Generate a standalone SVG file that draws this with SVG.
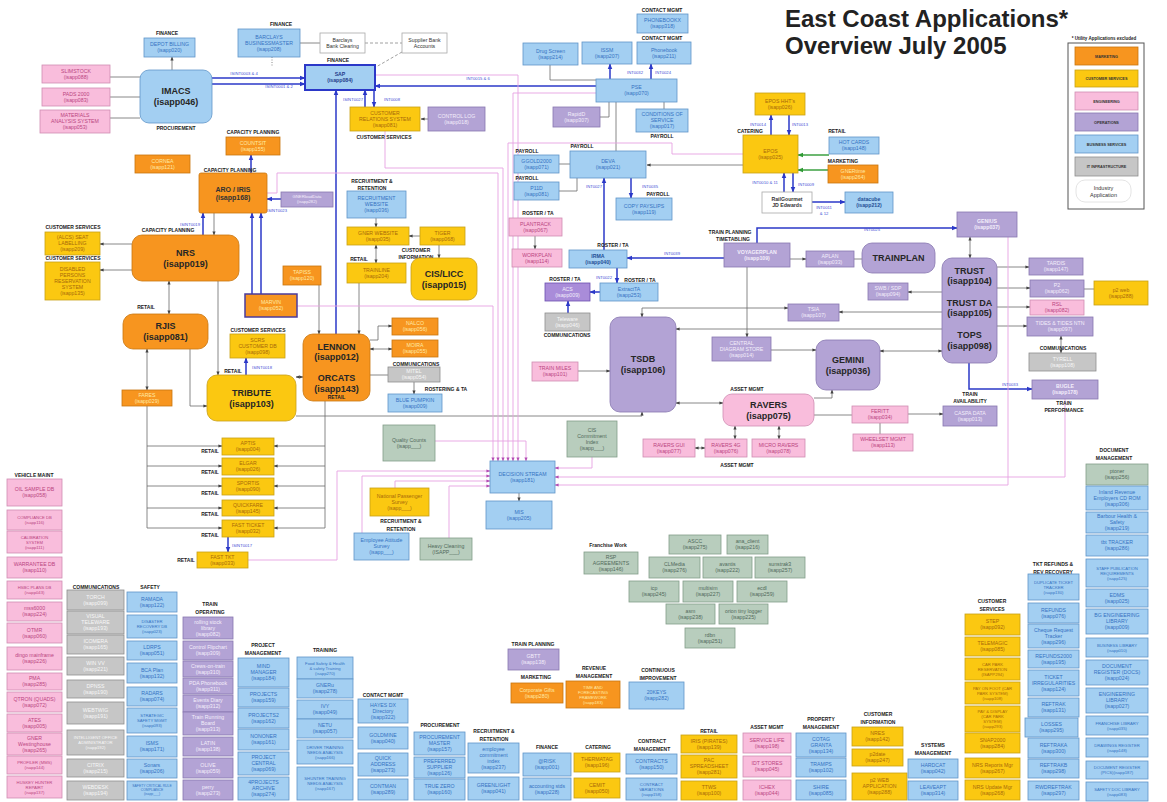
<svg xmlns="http://www.w3.org/2000/svg" width="1167" height="802" viewBox="0 0 1167 802">
<style>
text{font-family:"Liberation Sans",Arial,sans-serif}
.o{fill:#F7951F;stroke:#C9760F;stroke-width:.8}
.y{fill:#FBC811;stroke:#C9A016;stroke-width:.8}
.p{fill:#F9BDDC;stroke:#CF8DB2;stroke-width:.8}
.u{fill:#B3A3D5;stroke:#8877B0;stroke-width:.8}
.b{fill:#A3CFF2;stroke:#5F95C9;stroke-width:.8}
.g{fill:#C6C6C6;stroke:#8E8E8E;stroke-width:.8}
.n{fill:#B8CDBD;stroke:#839D89;stroke-width:.8}
.w{fill:#fff;stroke:#A9A9A9;stroke-width:.8}
.t{font-size:5.2px;text-anchor:middle}
.s{font-size:4.2px}
.xs{font-size:3.4px}
.to{fill:#FFEAA6}.ty{fill:#A8690A}.tp{fill:#B9457F}.tu{fill:#F3EEFB}.tb{fill:#3572C2}.tg{fill:#F7F7F7}.tn{fill:#50695A}.tw{fill:#333}
.bt{font-size:9px;font-weight:bold;fill:#262626;text-anchor:middle}
.lb{font-size:5px;font-weight:bold;fill:#222;text-anchor:middle}
.il{font-size:4.2px;fill:#3F4FD6;text-anchor:middle}
.lg{font-size:3.8px;font-weight:bold;fill:#333;text-anchor:middle}
.c{fill:none;stroke:#6a6a6a;stroke-width:.8}
.cd{fill:none;stroke:#888;stroke-width:.8;stroke-dasharray:3 2}
.cb{fill:none;stroke:#2B38C8;stroke-width:1.5}
.cp{fill:none;stroke:#E7A2E2;stroke-width:.9}
.cg{fill:none;stroke:#2E9A34;stroke-width:1.4}
</style>
<defs>
<marker id="a" viewBox="0 0 10 10" refX="9" refY="5" markerWidth="4" markerHeight="4" markerUnits="userSpaceOnUse" orient="auto-start-reverse"><path d="M0,1L10,5L0,9z" fill="#444"/></marker>
<marker id="ab" viewBox="0 0 10 10" refX="9" refY="5" markerWidth="6" markerHeight="6" markerUnits="userSpaceOnUse" orient="auto-start-reverse"><path d="M0,1L10,5L0,9z" fill="#2B38C8"/></marker>
<marker id="ag" viewBox="0 0 10 10" refX="9" refY="5" markerWidth="6" markerHeight="6" markerUnits="userSpaceOnUse" orient="auto-start-reverse"><path d="M0,1L10,5L0,9z" fill="#2E9A34"/></marker>
<marker id="ap" viewBox="0 0 10 10" refX="9" refY="5" markerWidth="4" markerHeight="4" markerUnits="userSpaceOnUse" orient="auto-start-reverse"><path d="M0,1L10,5L0,9z" fill="#B44FB4"/></marker>
</defs>
<rect width="1167" height="802" fill="#fff"/>

<!-- title and legend -->
<g id="title">
<text x="785" y="27" font-size="24" font-weight="bold" fill="#222">East Coast Applications*</text>
<text x="785" y="54" font-size="24" font-weight="bold" fill="#222">Overview July 2005</text>
</g>
<g id="legend">
<text x="1104" y="40" font-size="4.5" font-weight="bold" fill="#222" text-anchor="middle">* Utility Applications excluded</text>
<rect x="1068" y="43" width="76" height="166" fill="#fff" stroke="#555" stroke-width="1"/>
<rect class="o" x="1075" y="47" width="63" height="18"/><text class="lg" x="1106.5" y="57.5">MARKETING</text>
<rect class="y" x="1075" y="70" width="63" height="17"/><text class="lg" x="1106.5" y="80">CUSTOMER SERVICES</text>
<rect class="p" x="1075" y="92" width="63" height="18"/><text class="lg" x="1106.5" y="102.5">ENGINEERING</text>
<rect class="u" x="1075" y="113" width="63" height="18"/><text class="lg" x="1106.5" y="123.5">OPERATIONS</text>
<rect class="b" x="1075" y="135" width="63" height="18"/><text class="lg" x="1106.5" y="145.5">BUSINESS SERVICES</text>
<rect class="g" x="1075" y="157" width="63" height="19"/><text class="lg" x="1106.5" y="168">IT INFRASTRUCTURE</text>
<rect x="1076" y="180" width="55" height="22" rx="9" fill="#fff" stroke="#ddd" stroke-width=".8"/>
<text x="1103.5" y="190" font-size="5.5" fill="#333" text-anchor="middle">Industry</text>
<text x="1103.5" y="197" font-size="5.5" fill="#333" text-anchor="middle">Application</text>
</g>

<!-- connectors -->
<g id="connectors">
<g id="grey-links">
<path class="c" d="M172,70V57" marker-end="url(#a)"/>
<path class="c" d="M110,77H140M110,97H140M110,118H140M300,43H320"/>
<path class="cd" d="M365,43H402M402,52L376,67"/>
<path class="c" d="M272,57V66" stroke-dasharray="1 1.5"/>
<path class="c" d="M428,119H421" marker-end="url(#a)"/>
<path class="c" d="M550,65V80H596M664,102V109M616,102V151M600,117H609V102M559,164H570M559,191H577V178"/>
<path class="c" d="M743,165H647" marker-end="url(#a)"/>
<path class="c" d="M790,259H806" marker-end="url(#a)"/>
<path class="c" d="M854,259H862"/>
<path class="c" d="M214,213V235" marker-end="url(#a)"/>
<path class="c" d="M132,244H100" marker-end="url(#a)"/>
<path class="c" d="M132,270H100" marker-end="url(#a)"/>
<path class="c" d="M169,281V314" marker-start="url(#a)" marker-end="url(#a)"/>
<path class="c" d="M218,281V375" marker-end="url(#a)"/>
<path class="c" d="M147,349V390" marker-start="url(#a)" marker-end="url(#a)"/>
<path class="c" d="M190,349V406H207" marker-end="url(#a)"/>
<path class="c" d="M296,377H303" marker-start="url(#a)" marker-end="url(#a)"/>
<path class="c" d="M147,406V528M325,401V528"/>
<path class="c" d="M147,446H222" marker-end="url(#a)"/>
<path class="c" d="M147,466H222" marker-end="url(#a)"/>
<path class="c" d="M147,486H222" marker-end="url(#a)"/>
<path class="c" d="M147,508H222" marker-end="url(#a)"/>
<path class="c" d="M147,528H222" marker-end="url(#a)"/>
<path class="c" d="M325,446H274" marker-end="url(#a)"/>
<path class="c" d="M325,466H274" marker-end="url(#a)"/>
<path class="c" d="M325,486H274" marker-end="url(#a)"/>
<path class="c" d="M325,508H274" marker-end="url(#a)"/>
<path class="c" d="M325,528H274" marker-end="url(#a)"/>
<path class="c" d="M319,285V334" marker-end="url(#a)"/>
<path class="c" d="M359,283V334" marker-end="url(#a)"/>
<path class="c" d="M370,340H378V326H392" marker-end="url(#a)"/>
<path class="c" d="M370,349H392" marker-start="url(#a)" marker-end="url(#a)"/>
<path class="c" d="M370,375H388"/>
<path class="c" d="M414,382V394" marker-end="url(#a)"/>
<path class="c" d="M376,218V227" marker-end="url(#a)"/>
<path class="c" d="M420,236H409" marker-end="url(#a)"/>
<path class="c" d="M376,245V263" marker-start="url(#a)" marker-end="url(#a)"/>
<path class="c" d="M439,245V258" marker-end="url(#a)"/>
<path class="c" d="M535,236V249" marker-end="url(#a)"/>
<path class="c" d="M747,267V337" marker-end="url(#a)"/>
<path class="c" d="M788,308H642V317" marker-start="url(#a)" marker-end="url(#a)"/>
<path class="c" d="M942,312H839" marker-end="url(#a)"/>
<path class="c" d="M942,329H676" marker-end="url(#a)"/>
<path class="c" d="M771,350H816" marker-end="url(#a)"/>
<path class="c" d="M880,351H942" marker-start="url(#a)" marker-end="url(#a)"/>
<path class="c" d="M942,292H908" marker-end="url(#a)"/>
<path class="c" d="M997,267H1029" marker-end="url(#a)"/>
<path class="c" d="M997,288H1030" marker-end="url(#a)"/>
<path class="c" d="M997,307H1030" marker-end="url(#a)"/>
<path class="c" d="M997,326H1027" marker-end="url(#a)"/>
<path class="c" d="M1061,336V353" marker-start="url(#a)" marker-end="url(#a)"/>
<path class="c" d="M970,237V258" marker-start="url(#a)" marker-end="url(#a)"/>
<path class="c" d="M1084,289H1094"/>
<path class="c" d="M578,371H610" marker-end="url(#a)"/>
<path class="c" d="M676,403H723" marker-start="url(#a)" marker-end="url(#a)"/>
<path class="c" d="M814,398H832V390" marker-end="url(#a)"/>
<path class="c" d="M814,415H852"/>
<path class="c" d="M908,414H943" marker-end="url(#a)"/>
<path class="c" d="M880,423V434"/>
<path class="c" d="M735,426V439" marker-start="url(#a)" marker-end="url(#a)"/>
<path class="c" d="M779,426V439" marker-start="url(#a)" marker-end="url(#a)"/>
<path class="c" d="M705,448H695" marker-start="url(#a)" marker-end="url(#a)"/>
<path class="c" d="M296,416H642V412" marker-end="url(#a)"/>
<path class="c" d="M519,493V501" marker-end="url(#a)"/>
</g>
<g id="interface-links">
<path class="cb" d="M212,78H305" marker-end="url(#ab)"/>
<path class="cb" d="M212,84H305" marker-end="url(#ab)"/>
<path class="cb" d="M596,86H375" marker-end="url(#ab)"/>
<path class="cb" d="M365,107V90" marker-end="url(#ab)"/>
<path class="cb" d="M374,90V107" marker-end="url(#ab)"/>
<path class="cb" d="M336,334V90" marker-end="url(#ab)"/>
<path class="cb" d="M610,79V64" marker-end="url(#ab)"/>
<path class="cb" d="M651,79V64" marker-end="url(#ab)"/>
<path class="cb" d="M631,178V198" marker-end="url(#ab)"/>
<path class="cb" d="M604,250V178" marker-end="url(#ab)"/>
<path class="cb" d="M771,135V115" marker-end="url(#ab)"/>
<path class="cb" d="M789,115V135" marker-end="url(#ab)"/>
<path class="cb" d="M784,192V173" marker-end="url(#ab)"/>
<path class="cb" d="M793,173V192" marker-end="url(#ab)"/>
<path class="cb" d="M812,202H845" marker-end="url(#ab)"/>
<path class="cb" d="M251,173V155" marker-end="url(#ab)"/>
<path class="cb" d="M203,235V213" marker-end="url(#ab)"/>
<path class="cb" d="M281,199H267" marker-end="url(#ab)"/>
<path class="cb" d="M252,294V213" marker-end="url(#ab)"/>
<path class="cb" d="M261,294V213" marker-end="url(#ab)"/>
<path class="cb" d="M246,375V358" marker-end="url(#ab)"/>
<path class="cb" d="M228,537V552" marker-end="url(#ab)"/>
<path class="cb" d="M724,258H627" marker-end="url(#ab)"/>
<path class="cb" d="M757,243V228H957" marker-end="url(#ab)"/>
<path class="cb" d="M617,268V283" marker-end="url(#ab)"/>
<path class="cb" d="M600,292H590" marker-end="url(#ab)"/>
<path class="cb" d="M568,313V301" marker-end="url(#ab)"/>
<path class="cb" d="M969,363V389H1032" marker-end="url(#ab)"/>
<path class="cg" d="M829,155H798" marker-end="url(#ag)"/>
<path class="cg" d="M828,170H798" marker-end="url(#ag)"/>
</g>
<g id="decision-stream-feeds">
<path class="cp" d="M375,75H518V461" marker-end="url(#ap)"/>
<path class="cp" d="M596,93H513V461" marker-end="url(#ap)"/>
<path class="cp" d="M743,154H672V143H508V461" marker-end="url(#ap)"/>
<path class="cp" d="M385,131V168H503V461" marker-end="url(#ap)"/>
<path class="cp" d="M267,193H277V173H498V461" marker-end="url(#ap)"/>
<path class="cp" d="M297,306H493V461" marker-end="url(#ap)"/>
<path class="cp" d="M435,441H526V461" marker-end="url(#ap)"/>
<path class="cp" d="M592,457V468H555" marker-end="url(#ap)"/>
<path class="cp" d="M1008,237V485H555" marker-end="url(#ap)"/>
<path class="cp" d="M1065,399V477H555" marker-end="url(#ap)"/>
<path class="cp" d="M248,560H337V471H490" marker-end="url(#ap)"/>
<path class="cp" d="M362,533V476H490" marker-end="url(#ap)"/>
<path class="cp" d="M395,488V481H490" marker-end="url(#ap)"/>
<path class="cp" d="M449,538V486H490" marker-end="url(#ap)"/>
</g>
<g id="interface-labels">
<text class="il" x="244" y="75">ISINT0003 &amp; 4</text>
<text class="il" x="279" y="88">ISINT0001 &amp; 2</text>
<text class="il" x="478" y="80">INT0015 &amp; 6</text>
<text class="il" x="353" y="101">ISINT0027</text>
<text class="il" x="392" y="101">INT0008</text>
<text class="il" x="635" y="74">INT0032</text>
<text class="il" x="663" y="74">INT0024</text>
<text class="il" x="594" y="188">INT0027</text>
<text class="il" x="650" y="188">INT0035</text>
<text class="il" x="758" y="126">INT0014</text>
<text class="il" x="800" y="126">INT0013</text>
<text class="il" x="765" y="184">INT0010 &amp; 11</text>
<text class="il" x="806" y="186">INT0009</text>
<text class="il" x="824" y="209">INT0011</text>
<text class="il" x="824" y="215">&amp; 12</text>
<text class="il" x="672" y="255">INT0039</text>
<text class="il" x="872" y="231">INT0025</text>
<text class="il" x="604" y="279">INT0022</text>
<text class="il" x="1010" y="386">INT0033</text>
<text class="il" x="277" y="212">ISINT0023</text>
<text class="il" x="190" y="226">ISINT0019</text>
<text class="il" x="262" y="369">ISINT0018</text>
<text class="il" x="242" y="547">ISINT0017</text>
</g>
</g>

<!-- section labels -->
<g id="labels">
<text class="lb" x="167" y="35">FINANCE</text>
<text class="lb" x="176" y="130">PROCUREMENT</text>
<text class="lb" x="281" y="26">FINANCE</text>
<text class="lb" x="338" y="62">FINANCE</text>
<text class="lb" x="384" y="139">CUSTOMER SERVICES</text>
<text class="lb" x="662" y="12">CONTACT MGMT</text>
<text class="lb" x="662" y="40">CONTACT MGMT</text>
<text class="lb" x="662" y="138">PAYROLL</text>
<text class="lb" x="527" y="153">PAYROLL</text>
<text class="lb" x="527" y="180">PAYROLL</text>
<text class="lb" x="582" y="148">PAYROLL</text>
<text class="lb" x="658" y="196">PAYROLL</text>
<text class="lb" x="538" y="215">ROSTER / TA</text>
<text class="lb" x="613" y="247">ROSTER / TA</text>
<text class="lb" x="565" y="281">ROSTER / TA</text>
<text class="lb" x="640" y="282">ROSTER / TA</text>
<text class="lb" x="567" y="337">COMMUNICATIONS</text>
<text class="lb" x="750" y="133">CATERING</text>
<text class="lb" x="837" y="133">RETAIL</text>
<text class="lb" x="843" y="163">MARKETING</text>
<text class="lb" x="730" y="234">TRAIN PLANNING</text>
<text class="lb" x="733" y="241">TIMETABLING</text>
<text class="lb" x="253" y="134">CAPACITY PLANNING</text>
<text class="lb" x="230" y="172">CAPACITY PLANNING</text>
<text class="lb" x="168" y="232">CAPACITY PLANNING</text>
<text class="lb" x="73" y="229">CUSTOMER SERVICES</text>
<text class="lb" x="73" y="260">CUSTOMER SERVICES</text>
<text class="lb" x="372" y="183">RECRUITMENT &amp;</text>
<text class="lb" x="372" y="190">RETENTION</text>
<text class="lb" x="416" y="252">CUSTOMER</text>
<text class="lb" x="416" y="259">INFORMATION</text>
<text class="lb" x="359" y="261">RETAIL</text>
<text class="lb" x="146" y="309">RETAIL</text>
<text class="lb" x="258" y="332">CUSTOMER SERVICES</text>
<text class="lb" x="233" y="373">RETAIL</text>
<text class="lb" x="416" y="366">COMMUNICATIONS</text>
<text class="lb" x="446" y="391">ROSTERING &amp; TA</text>
<text class="lb" x="210" y="453">RETAIL</text>
<text class="lb" x="210" y="474">RETAIL</text>
<text class="lb" x="210" y="495">RETAIL</text>
<text class="lb" x="210" y="516">RETAIL</text>
<text class="lb" x="210" y="537">RETAIL</text>
<text class="lb" x="186" y="562">RETAIL</text>
<text class="lb" x="401" y="523">RECRUITMENT &amp;</text>
<text class="lb" x="401" y="531">RETENTION</text>
<text class="lb" x="747" y="391">ASSET MGMT</text>
<text class="lb" x="737" y="467">ASSET MGMT</text>
<text class="lb" x="970" y="396">TRAIN</text>
<text class="lb" x="970" y="403">AVAILABILITY</text>
<text class="lb" x="1063" y="350">COMMUNICATIONS</text>
<text class="lb" x="1064" y="405">TRAIN</text>
<text class="lb" x="1064" y="412">PERFORMANCE</text>
<text class="lb" x="1114" y="452">DOCUMENT</text>
<text class="lb" x="1114" y="460">MANAGEMENT</text>
<text class="lb" x="34" y="477">VEHICLE MAINT</text>
<text class="lb" x="96" y="589">COMMUNICATIONS</text>
<text class="lb" x="150" y="589">SAFETY</text>
<text class="lb" x="210" y="606">TRAIN</text>
<text class="lb" x="210" y="614">OPERATING</text>
<text class="lb" x="263" y="647">PROJECT</text>
<text class="lb" x="263" y="655">MANAGEMENT</text>
<text class="lb" x="325" y="652">TRAINING</text>
<text class="lb" x="383" y="697">CONTACT MGMT</text>
<text class="lb" x="440" y="727">PROCUREMENT</text>
<text class="lb" x="494" y="733">RECRUITMENT &amp;</text>
<text class="lb" x="494" y="741">RETENTION</text>
<text class="lb" x="547" y="749">FINANCE</text>
<text class="lb" x="533" y="646">TRAIN PLANNING</text>
<text class="lb" x="536" y="679">MARKETING</text>
<text class="lb" x="594" y="670">REVENUE</text>
<text class="lb" x="594" y="678">MANAGEMENT</text>
<text class="lb" x="658" y="672">CONTINUOUS</text>
<text class="lb" x="658" y="680">IMPROVEMENT</text>
<text class="lb" x="598" y="749">CATERING</text>
<text class="lb" x="652" y="743">CONTRACT</text>
<text class="lb" x="652" y="751">MANAGEMENT</text>
<text class="lb" x="709" y="733">RETAIL</text>
<text class="lb" x="767" y="729">ASSET MGMT</text>
<text class="lb" x="821" y="721">PROPERTY</text>
<text class="lb" x="821" y="729">MANAGEMENT</text>
<text class="lb" x="878" y="716">CUSTOMER</text>
<text class="lb" x="878" y="724">INFORMATION</text>
<text class="lb" x="933" y="747">SYSTEMS</text>
<text class="lb" x="933" y="755">MANAGEMENT</text>
<text class="lb" x="992" y="603">CUSTOMER</text>
<text class="lb" x="992" y="611">SERVICES</text>
<text class="lb" x="1053" y="566">TKT REFUNDS &amp;</text>
<text class="lb" x="1053" y="574">REV RECOVERY</text>
<text class="lb" x="608" y="547">Franchise Work</text>
</g>

<!-- main map nodes -->
<g id="depot"><rect class="b" x="144" y="38" width="51" height="19"/><text class="t tb" x="169.5" y="46.3">DEPOT BILLING<tspan x="169.5" dy="6">(isapp020)</tspan></text></g>
<g id="slimstock"><rect class="p" x="42" y="65" width="68" height="18"/><text class="t tp" x="76" y="72.8">SLIMSTOCK<tspan x="76" dy="6">(isapp088)</tspan></text></g>
<g id="pads"><rect class="p" x="42" y="88" width="68" height="18"/><text class="t tp" x="76" y="95.8">PADS 2000<tspan x="76" dy="6">(isapp083)</tspan></text></g>
<g id="materials"><rect class="p" x="40" y="110" width="70" height="23"/><text class="t tp" x="75" y="117.3">MATERIALS<tspan x="75" dy="6">ANALYSIS SYSTEM</tspan><tspan x="75" dy="6">(isapp053)</tspan></text></g>
<g id="imacs"><rect class="b" x="140" y="70" width="72" height="53" rx="9"/><text class="bt" x="176" y="94.2">IMACS<tspan x="176" dy="11">(isapp046)</tspan></text></g>
<g id="barclays"><rect class="b" x="238" y="29" width="62" height="28"/><text class="t tb" x="269" y="38.8">BARCLAYS<tspan x="269" dy="6">BUSINESSMASTER</tspan><tspan x="269" dy="6">(isapp208)</tspan></text></g>
<g id="bank-clearing"><rect class="w" x="320" y="33" width="45" height="20"/><text class="t tw" x="342.5" y="41.8">Barclays<tspan x="342.5" dy="6">Bank Clearing</tspan></text></g>
<g id="supplier-bank"><rect class="w" x="402" y="33" width="45" height="20"/><text class="t tw" x="424.5" y="41.8">Supplier Bank<tspan x="424.5" dy="6">Accounts</tspan></text></g>
<g id="sap"><rect class="b" x="305" y="65" width="70" height="25" stroke="#2B38C8" stroke-width="2" style="stroke:#2B38C8;stroke-width:2"/><text class="t" x="340" y="76.3" fill="#1F3C8A" font-weight="bold">SAP<tspan x="340" dy="6">(isapp084)</tspan></text></g>
<g id="crs"><rect class="y" x="350" y="107" width="70" height="24"/><text class="t ty" x="385" y="114.8">CUSTOMER<tspan x="385" dy="6">RELATIONS SYSTEM</tspan><tspan x="385" dy="6">(isapp081)</tspan></text></g>
<g id="control-log"><rect class="u" x="428" y="107" width="57" height="24"/><text class="t tu" x="456.5" y="117.8">CONTROL LOG<tspan x="456.5" dy="6">(isapp018)</tspan></text></g>
<g id="drug-screen"><rect class="b" x="523" y="43" width="55" height="22"/><text class="t tb" x="550.5" y="52.8">Drug Screen<tspan x="550.5" dy="6">(isapp214)</tspan></text></g>
<g id="issm"><rect class="b" x="582" y="42" width="50" height="22"/><text class="t tb" x="607" y="51.8">ISSM<tspan x="607" dy="6">(isapp207)</tspan></text></g>
<g id="phonebookx"><rect class="b" x="637" y="14" width="51" height="19"/><text class="t tb" x="662.5" y="22.3">PHONEBOOKX<tspan x="662.5" dy="6">(isapp318)</tspan></text></g>
<g id="phonebook"><rect class="b" x="637" y="42" width="54" height="22"/><text class="t tb" x="664" y="51.8">Phonebook<tspan x="664" dy="6">(isapp211)</tspan></text></g>
<g id="pse"><rect class="b" x="596" y="79" width="81" height="23"/><text class="t tb" x="636.5" y="89.3">PSE<tspan x="636.5" dy="6">(isapp070)</tspan></text></g>
<g id="rapidd"><rect class="u" x="553" y="107" width="47" height="20"/><text class="t tu" x="576.5" y="115.8">RapidD<tspan x="576.5" dy="6">(isapp307)</tspan></text></g>
<g id="conditions"><rect class="b" x="636" y="109" width="52" height="23"/><text class="t tb" x="662" y="116.3">CONDITIONS OF<tspan x="662" dy="6">SERVICE</tspan><tspan x="662" dy="6">(isapp017)</tspan></text></g>
<g id="ggold"><rect class="b" x="514" y="155" width="45" height="18"/><text class="t tb" x="536.5" y="162.8">GGOLD2000<tspan x="536.5" dy="6">(isapp071)</tspan></text></g>
<g id="p11d"><rect class="b" x="514" y="182" width="45" height="18"/><text class="t tb" x="536.5" y="189.8">P11D<tspan x="536.5" dy="6">(isapp081)</tspan></text></g>
<g id="deva"><rect class="b" x="570" y="151" width="76" height="27"/><text class="t tb" x="608" y="163.3">DEVA<tspan x="608" dy="6">(isapp021)</tspan></text></g>
<g id="copy-payslips"><rect class="b" x="616" y="198" width="56" height="22"/><text class="t tb" x="644" y="207.8">COPY PAYSLIPS<tspan x="644" dy="6">(isapp119)</tspan></text></g>
<g id="epos-hht"><rect class="y" x="755" y="93" width="50" height="22"/><text class="t ty" x="780" y="102.8">EPOS HHT's<tspan x="780" dy="6">(isapp026)</tspan></text></g>
<g id="epos"><rect class="y" x="743" y="135" width="55" height="38"/><text class="t ty" x="770.5" y="152.8">EPOS<tspan x="770.5" dy="6">(isapp025)</tspan></text></g>
<g id="hot-cards"><rect class="b" x="829" y="137" width="50" height="17"/><text class="t tb" x="854" y="144.3">HOT CARDS<tspan x="854" dy="6">(isapp148)</tspan></text></g>
<g id="gnertime"><rect class="o" x="828" y="165" width="50" height="18"/><text class="t to" x="853" y="172.8">GNERtime<tspan x="853" dy="6">(isapp264)</tspan></text></g>
<g id="railgourmet"><rect class="w" x="762" y="192" width="50" height="21"/><text class="t tw" x="787" y="201.3" font-weight="bold">RailGourmet<tspan x="787" dy="6">JD Edwards</tspan></text></g>
<g id="datacube"><rect class="b" x="845" y="192" width="48" height="21"/><text class="t" x="869" y="201.3" fill="#1F4E96" font-weight="bold">datacube<tspan x="869" dy="6">(isapp212)</tspan></text></g>
<g id="countsit"><rect class="o" x="226" y="137" width="54" height="18"/><text class="t to" x="253" y="144.8">COUNTSIT<tspan x="253" dy="6">(isapp155)</tspan></text></g>
<g id="cornea"><rect class="o" x="135" y="155" width="55" height="18"/><text class="t to" x="162.5" y="162.8">CORNEA<tspan x="162.5" dy="6">(isapp121)</tspan></text></g>
<g id="aro-iris"><rect class="o" x="199" y="173" width="68" height="40" rx="2"/><text x="233" y="191.5" font-size="7" font-weight="bold" fill="#333" text-anchor="middle">ARO / IRIS<tspan x="233" dy="8">(isapp168)</tspan></text></g>
<g id="gnerload"><rect class="u" x="281" y="192" width="52" height="15"/><text class="t tu s" x="307" y="198">GNERloadData<tspan x="307" dy="5">(isapp282)</tspan></text></g>
<g id="recruit-web"><rect class="b" x="347" y="191" width="59" height="27"/><text class="t tb" x="376.5" y="200.3">RECRUITMENT<tspan x="376.5" dy="6">WEBSITE</tspan><tspan x="376.5" dy="6">(isapp036)</tspan></text></g>
<g id="gner-website"><rect class="y" x="347" y="227" width="62" height="18"/><text class="t ty" x="378" y="234.8">GNER WEBSITE<tspan x="378" dy="6">(isapp035)</tspan></text></g>
<g id="tiger"><rect class="y" x="420" y="227" width="45" height="18"/><text class="t ty" x="442.5" y="234.8">TIGER<tspan x="442.5" dy="6">(isapp068)</tspan></text></g>
<g id="trainline"><rect class="y" x="347" y="263" width="59" height="20"/><text class="t ty" x="376.5" y="271.8">TRAINLINE<tspan x="376.5" dy="6">(isapp204)</tspan></text></g>
<g id="cis-licc"><rect class="y" x="411" y="258" width="66" height="42" rx="9"/><text class="bt" x="444" y="276.7">CIS/LICC<tspan x="444" dy="11">(isapp015)</tspan></text></g>
<g id="plantrack"><rect class="p" x="509" y="218" width="53" height="18"/><text class="t tp" x="535.5" y="225.8">PLANTRACK<tspan x="535.5" dy="6">(isapp067)</tspan></text></g>
<g id="workplan"><rect class="p" x="512" y="249" width="50" height="18"/><text class="t tp" x="537" y="256.8">WORKPLAN<tspan x="537" dy="6">(isapp114)</tspan></text></g>
<g id="irma"><rect class="b" x="569" y="250" width="58" height="18"/><text class="t" x="598" y="257.8" fill="#1F4E96" font-weight="bold">IRMA<tspan x="598" dy="6">(isapp040)</tspan></text></g>
<g id="voyagerplan"><rect class="u" x="724" y="243" width="66" height="24"/><text class="t tu" x="757" y="253.8" font-weight="bold">VOYAGERPLAN<tspan x="757" dy="6">(isapp109)</tspan></text></g>
<g id="aplan"><rect class="u" x="806" y="251" width="48" height="16"/><text class="t tu" x="830" y="257.8">APLAN<tspan x="830" dy="6">(isapp033)</tspan></text></g>
<g id="trainplan"><rect class="u" x="862" y="243" width="73" height="30" rx="10"/><text class="bt" x="898.5" y="261.2">TRAINPLAN</text></g>
<g id="genius"><rect class="u" x="957" y="212" width="60" height="25"/><text class="t tu" x="987" y="223.3" font-weight="bold">GENIUS<tspan x="987" dy="6">(isapp037)</tspan></text></g>
<g id="alcs"><rect class="y" x="45" y="232" width="55" height="23"/><text class="t ty" x="72.5" y="239.3">(ALCS)  SEAT<tspan x="72.5" dy="6">LABELLING</tspan><tspan x="72.5" dy="6">(isapp209)</tspan></text></g>
<g id="disabled"><rect class="y" x="45" y="262" width="55" height="38"/><text class="t ty" x="72.5" y="270.8">DISABLED<tspan x="72.5" dy="6">PERSONS</tspan><tspan x="72.5" dy="6">RESERVATION</tspan><tspan x="72.5" dy="6">SYSTEM</tspan><tspan x="72.5" dy="6">(isapp135)</tspan></text></g>
<g id="nrs"><rect class="o" x="132" y="235" width="107" height="46" rx="10"/><text class="bt" x="185.5" y="255.7">NRS<tspan x="185.5" dy="11">(isapp019)</tspan></text></g>
<g id="tapiss"><rect class="o" x="283" y="266" width="38" height="19"/><text class="t to" x="302" y="274.3">TAPISS<tspan x="302" dy="6">(isapp120)</tspan></text></g>
<g id="marvin"><rect class="o" x="245" y="294" width="52" height="23" style="stroke:#4B3C9C;stroke-width:1.5"/><text class="t to" x="271" y="304.3">MARVIN<tspan x="271" dy="6">(isapp052)</tspan></text></g>
<g id="rjis"><rect class="o" x="123" y="314" width="85" height="35" rx="10"/><text class="bt" x="165.5" y="329.2">RJIS<tspan x="165.5" dy="11">(isapp081)</tspan></text></g>
<g id="scrs"><rect class="y" x="230" y="334" width="55" height="24"/><text class="t ty" x="257.5" y="341.8">SCRS<tspan x="257.5" dy="6">CUSTOMER DB</tspan><tspan x="257.5" dy="6">(isapp098)</tspan></text></g>
<g id="tribute"><rect class="y" x="207" y="375" width="89" height="46" rx="10"/><text class="bt" x="251.5" y="395.7">TRIBUTE<tspan x="251.5" dy="11">(isapp103)</tspan></text></g>
<g id="fares"><rect class="o" x="122" y="390" width="50" height="16"/><text class="t to" x="147" y="396.8">FARES<tspan x="147" dy="6">(isapp029)</tspan></text></g>
<g id="lennon-orcats"><rect class="o" x="303" y="334" width="67" height="67" rx="10"/><text class="bt" x="336.5" y="349.5">LENNON<tspan x="336.5" dy="10.5">(isapp012)</tspan><tspan x="336.5" dy="21">ORCATS</tspan><tspan x="336.5" dy="10.5">(isapp143)</tspan></text><text class="lb" x="336.5" y="398.5">RETAIL</text></g>
<g id="nalco"><rect class="o" x="392" y="318" width="46" height="17"/><text class="t to" x="415" y="325.3">NALCO<tspan x="415" dy="6">(isapp056)</tspan></text></g>
<g id="moira"><rect class="o" x="392" y="340" width="46" height="17"/><text class="t to" x="415" y="347.3">MOIRA<tspan x="415" dy="6">(isapp055)</tspan></text></g>
<g id="mitel"><rect class="g" x="388" y="367" width="52" height="15"/><text class="t tg" x="414" y="373.3">MITEL<tspan x="414" dy="6">(isapp054)</tspan></text></g>
<g id="blue-pumpkin"><rect class="b" x="388" y="394" width="54" height="18"/><text class="t tb" x="415" y="401.8">BLUE PUMPKIN<tspan x="415" dy="6">(isapp009)</tspan></text></g>
<g id="aptis"><rect class="y" x="222" y="438" width="52" height="17"/><text class="t ty" x="248" y="445.3">APTIS<tspan x="248" dy="6">(isapp004)</tspan></text></g>
<g id="elgar"><rect class="y" x="222" y="458" width="52" height="17"/><text class="t ty" x="248" y="465.3">ELGAR<tspan x="248" dy="6">(isapp026)</tspan></text></g>
<g id="sportis"><rect class="y" x="222" y="478" width="52" height="17"/><text class="t ty" x="248" y="485.3">SPORTIS<tspan x="248" dy="6">(isapp090)</tspan></text></g>
<g id="quickfare"><rect class="y" x="222" y="500" width="52" height="16"/><text class="t ty" x="248" y="506.8">QUICKFARE<tspan x="248" dy="6">(isapp145)</tspan></text></g>
<g id="fast-ticket"><rect class="y" x="222" y="520" width="52" height="17"/><text class="t ty" x="248" y="527.3">FAST TICKET<tspan x="248" dy="6">(isapp032)</tspan></text></g>
<g id="fast-tkt"><rect class="y" x="197" y="552" width="51" height="16"/><text class="t ty" x="222.5" y="558.8">FAST TKT<tspan x="222.5" dy="6">(isapp033)</tspan></text></g>
<g id="quality-counts"><rect class="n" x="383" y="425" width="52" height="36"/><text class="t tn" x="409" y="441.8">Quality Counts<tspan x="409" dy="6">(isapp___)</tspan></text></g>
<g id="cis-commitment"><rect class="n" x="567" y="421" width="50" height="36"/><text class="t tn" x="592" y="431.8">CIS<tspan x="592" dy="6">Commitment</tspan><tspan x="592" dy="6">Index</tspan><tspan x="592" dy="6">(isapp___)</tspan></text></g>
<g id="decision-stream"><rect class="b" x="490" y="461" width="65" height="32"/><text class="t tb" x="522.5" y="475.8">DECISION STREAM<tspan x="522.5" dy="6">(isapp181)</tspan></text></g>
<g id="mis"><rect class="b" x="486" y="501" width="66" height="28"/><text class="t tb" x="519" y="513.8">MIS<tspan x="519" dy="6">(isapp205)</tspan></text></g>
<g id="nps"><rect class="y" x="370" y="488" width="59" height="28"/><text class="t ty" x="399.5" y="497.8">National Passenger<tspan x="399.5" dy="6">Survey</tspan><tspan x="399.5" dy="6">(isapp___)</tspan></text></g>
<g id="eas"><rect class="b" x="354" y="533" width="55" height="27"/><text class="t tb" x="381.5" y="542.3">Employee Attitude<tspan x="381.5" dy="6">Survey</tspan><tspan x="381.5" dy="6">(isapp___)</tspan></text></g>
<g id="heavy-cleaning"><rect class="n" x="420" y="538" width="52" height="22"/><text class="t tn" x="446" y="547.8">Heavy Cleaning<tspan x="446" dy="6">(ISAPP___)</tspan></text></g>
<g id="train-miles"><rect class="p" x="532" y="362" width="46" height="19"/><text class="t tp" x="555" y="370.3">TRAIN MILES<tspan x="555" dy="6">(isapp101)</tspan></text></g>
<g id="acs"><rect x="545" y="283" width="45" height="18" fill="#A98CD9" stroke="#6B4FB0" stroke-width=".8"/><text class="t tu" x="567.5" y="290.8">ACS<tspan x="567.5" dy="6">(isapp009)</tspan></text></g>
<g id="teleware"><rect class="g" x="545" y="313" width="45" height="18"/><text class="t tg" x="567.5" y="320.8">Teleware<tspan x="567.5" dy="6">(isapp046)</tspan></text></g>
<g id="extractta"><rect class="b" x="600" y="283" width="58" height="18"/><text class="t tb" x="629" y="290.8">ExtractTA<tspan x="629" dy="6">(isapp253)</tspan></text></g>
<g id="tsdb"><rect class="u" x="610" y="317" width="66" height="95" rx="10"/><text class="bt" x="643" y="362.2">TSDB<tspan x="643" dy="11">(isapp106)</tspan></text></g>
<g id="tsia"><rect class="u" x="788" y="304" width="51" height="17"/><text class="t tu" x="813.5" y="311.3">TSIA<tspan x="813.5" dy="6">(isapp107)</tspan></text></g>
<g id="central-diagram"><rect class="u" x="712" y="337" width="59" height="24"/><text class="t tu" x="741.5" y="344.8">CENTRAL<tspan x="741.5" dy="6">DIAGRAM STORE</tspan><tspan x="741.5" dy="6">(isapp014)</tspan></text></g>
<g id="gemini"><rect class="u" x="816" y="340" width="64" height="50" rx="10"/><text class="bt" x="848" y="362.7">GEMINI<tspan x="848" dy="11">(isapp036)</tspan></text></g>
<g id="ravers"><rect class="p" x="723" y="394" width="91" height="32" rx="9"/><text class="bt" x="768.5" y="407.7">RAVERS<tspan x="768.5" dy="11">(isapp075)</tspan></text></g>
<g id="ravers-gui"><rect class="p" x="643" y="439" width="52" height="18"/><text class="t tp" x="669" y="446.8">RAVERS GUI<tspan x="669" dy="6">(isapp077)</tspan></text></g>
<g id="ravers-4g"><rect class="p" x="705" y="439" width="42" height="18"/><text class="t tp" x="726" y="446.8">RAVERS 4G<tspan x="726" dy="6">(isapp076)</tspan></text></g>
<g id="micro-ravers"><rect class="p" x="752" y="439" width="53" height="18"/><text class="t tp" x="778.5" y="446.8">MICRO RAVERS<tspan x="778.5" dy="6">(isapp078)</tspan></text></g>
<g id="feritt"><rect class="p" x="852" y="406" width="56" height="17"/><text class="t tp" x="880" y="413.3">FERITT<tspan x="880" dy="6">(isapp034)</tspan></text></g>
<g id="wheelset"><rect class="p" x="853" y="434" width="60" height="17"/><text class="t tp" x="883" y="441.3">WHEELSET MGMT<tspan x="883" dy="6">(isapp113)</tspan></text></g>
<g id="caspa"><rect class="u" x="943" y="406" width="54" height="20"/><text class="t tu" x="970" y="414.8">CASPA DATA<tspan x="970" dy="6">(isapp013)</tspan></text></g>
<g id="trust"><rect class="u" x="942" y="258" width="55" height="105" rx="10"/><text class="bt" x="969.5" y="273.5">TRUST<tspan x="969.5" dy="10.5">(isapp104)</tspan><tspan x="969.5" dy="21.5">TRUST DA</tspan><tspan x="969.5" dy="10.5">(isapp105)</tspan><tspan x="969.5" dy="21.5">TOPS</tspan><tspan x="969.5" dy="11">(isapp098)</tspan></text></g>
<g id="swb-sdp"><rect class="u" x="868" y="283" width="40" height="17"/><text class="t tu" x="888" y="290.3">SWB / SDP<tspan x="888" dy="6">(isapp094)</tspan></text></g>
<g id="tardis"><rect class="u" x="1029" y="258" width="54" height="17"/><text class="t tu" x="1056" y="265.3">TARDIS<tspan x="1056" dy="6">(isapp147)</tspan></text></g>
<g id="p2"><rect class="u" x="1030" y="280" width="54" height="17"/><text class="t tu" x="1057" y="287.3">P2<tspan x="1057" dy="6">(isapp062)</tspan></text></g>
<g id="p2-web"><rect class="y" x="1094" y="281" width="54" height="24"/><text class="t ty" x="1121" y="291.8">p2 web<tspan x="1121" dy="6">(isapp288)</tspan></text></g>
<g id="rsl"><rect class="p" x="1030" y="300" width="54" height="15"/><text class="t tp" x="1057" y="306.3">RSL<tspan x="1057" dy="6">(isapp082)</tspan></text></g>
<g id="tides"><rect class="u" x="1027" y="317" width="66" height="19"/><text class="t tu" x="1060" y="325.3">TIDES &amp; TIDES NTN<tspan x="1060" dy="6">(isapp097)</tspan></text></g>
<g id="tyrell"><rect class="g" x="1029" y="353" width="67" height="18"/><text class="t tg" x="1062.5" y="360.8">TYRELL<tspan x="1062.5" dy="6">(isapp108)</tspan></text></g>
<g id="bugle"><rect class="u" x="1032" y="380" width="66" height="19"/><text class="t tu" x="1065" y="388.3" font-weight="bold">BUGLE<tspan x="1065" dy="6">(isapp178)</tspan></text></g>

<!-- standalone application lists -->
<g id="vehicle-maint">
<g id="oil-sample"><rect class="p" x="7" y="479" width="55" height="27"/><text class="t tp" x="34.5" y="491.3">OIL SAMPLE DB<tspan x="34.5" dy="6">(isapp058)</tspan></text></g>
<g id="compliance-db"><rect class="p" x="7" y="510" width="55" height="20"/><text class="t tp s" x="34.5" y="519">COMPLIANCE DB<tspan x="34.5" dy="5">(isapp116)</tspan></text></g>
<g id="calibration"><rect class="p" x="7" y="531" width="55" height="22"/><text class="t tp s" x="34.5" y="538.5">CALIBRATION<tspan x="34.5" dy="5">SYSTEM</tspan><tspan x="34.5" dy="5">(isapp111)</tspan></text></g>
<g id="warrantee"><rect class="p" x="7" y="557" width="55" height="21"/><text class="t tp" x="34.5" y="566.3">WARRANTEE DB<tspan x="34.5" dy="6">(isapp110)</tspan></text></g>
<g id="hsbc-plans"><rect class="p" x="7" y="581" width="55" height="18"/><text class="t tp s" x="34.5" y="589">HSBC PLANS DB<tspan x="34.5" dy="5">(isapp043)</tspan></text></g>
<g id="mss6000"><rect class="p" x="7" y="602" width="55" height="19"/><text class="t tp" x="34.5" y="610.3">mss6000<tspan x="34.5" dy="6">(isapp224)</tspan></text></g>
<g id="otmr"><rect class="p" x="7" y="623" width="55" height="20"/><text class="t tp" x="34.5" y="631.8">OTMR<tspan x="34.5" dy="6">(isapp060)</tspan></text></g>
<g id="dingo"><rect class="p" x="7" y="647" width="55" height="23"/><text class="t tp" x="34.5" y="657.3">dingo mainframe<tspan x="34.5" dy="6">(isapp226)</tspan></text></g>
<g id="pma"><rect class="p" x="7" y="673" width="55" height="17"/><text class="t tp" x="34.5" y="680.3">PMA<tspan x="34.5" dy="6">(isapp285)</tspan></text></g>
<g id="qtron"><rect class="p" x="7" y="692" width="55" height="20"/><text class="t tp" x="34.5" y="700.8">QTRON (QUADS)<tspan x="34.5" dy="6">(isapp072)</tspan></text></g>
<g id="ates"><rect class="p" x="7" y="714" width="55" height="18"/><text class="t tp" x="34.5" y="721.8">ATES<tspan x="34.5" dy="6">(isapp005)</tspan></text></g>
<g id="westinghouse"><rect class="p" x="7" y="733" width="55" height="22"/><text class="t tp" x="34.5" y="739.8">GNER<tspan x="34.5" dy="6">Westinghouse</tspan><tspan x="34.5" dy="6">(isapp265)</tspan></text></g>
<g id="profiler"><rect class="p" x="7" y="756" width="55" height="18"/><text class="t tp s" x="34.5" y="764">PROFILER (MMS)<tspan x="34.5" dy="5">(isapp144)</tspan></text></g>
<g id="huskey"><rect class="p" x="7" y="776" width="55" height="22"/><text class="t tp s" x="34.5" y="783.5">HUSKEY HUNTER<tspan x="34.5" dy="5">REPAIRT</tspan><tspan x="34.5" dy="5">(isapp137)</tspan></text></g>
</g>
<g id="communications">
<g id="torch"><rect class="g" x="67" y="590" width="57" height="20"/><text class="t tg" x="95.5" y="598.8">TORCH<tspan x="95.5" dy="6">(isapp099)</tspan></text></g>
<g id="visual-teleware"><rect class="g" x="67" y="611" width="57" height="23"/><text class="t tg" x="95.5" y="618.3">VISUAL<tspan x="95.5" dy="6">TELEWARE</tspan><tspan x="95.5" dy="6">(isapp193)</tspan></text></g>
<g id="icomera"><rect class="g" x="67" y="635" width="57" height="19"/><text class="t tg" x="95.5" y="643.3">ICOMERA<tspan x="95.5" dy="6">(isapp165)</tspan></text></g>
<g id="win-vv"><rect class="g" x="67" y="657" width="57" height="18"/><text class="t tg" x="95.5" y="664.8">WIN VV<tspan x="95.5" dy="6">(isapp221)</tspan></text></g>
<g id="dpnss"><rect class="g" x="67" y="680" width="57" height="18"/><text class="t tg" x="95.5" y="687.8">DPNSS<tspan x="95.5" dy="6">(isapp190)</tspan></text></g>
<g id="webtwig"><rect class="g" x="67" y="702" width="57" height="22"/><text class="t tg" x="95.5" y="711.8">WEBTWIG<tspan x="95.5" dy="6">(isapp191)</tspan></text></g>
<g id="intelligent-office"><rect class="g" x="67" y="730" width="57" height="25"/><text class="t tg s" x="95.5" y="739">INTELLIGENT OFFICE<tspan x="95.5" dy="5">ADMINISTRATOR</tspan><tspan x="95.5" dy="5">(isapp192)</tspan></text></g>
<g id="citrix"><rect class="g" x="67" y="759" width="57" height="18"/><text class="t tg" x="95.5" y="766.8">CITRIX<tspan x="95.5" dy="6">(isapp215)</tspan></text></g>
<g id="webdesk"><rect class="g" x="67" y="781" width="57" height="19"/><text class="t tg" x="95.5" y="789.3">WEBDESK<tspan x="95.5" dy="6">(isapp194)</tspan></text></g>
</g>
<g id="safety">
<g id="ramada"><rect class="b" x="127" y="592" width="50" height="20"/><text class="t tb" x="152" y="600.8">RAMADA<tspan x="152" dy="6">(isapp122)</tspan></text></g>
<g id="disaster"><rect class="b" x="127" y="615" width="50" height="23"/><text class="t tb s" x="152" y="623">DISASTER<tspan x="152" dy="5">RECOVERY DB</tspan><tspan x="152" dy="5">(isapp023)</tspan></text></g>
<g id="ldrps"><rect class="b" x="127" y="641" width="50" height="19"/><text class="t tb" x="152" y="649.3">LDRPS<tspan x="152" dy="6">(isapp051)</tspan></text></g>
<g id="bca"><rect class="b" x="127" y="663" width="50" height="20"/><text class="t tb" x="152" y="671.8">BCA Plan<tspan x="152" dy="6">(isapp132)</tspan></text></g>
<g id="radars"><rect class="b" x="127" y="687" width="50" height="19"/><text class="t tb" x="152" y="695.3">RADARS<tspan x="152" dy="6">(isapp074)</tspan></text></g>
<g id="strategic"><rect class="b" x="127" y="708" width="50" height="25"/><text class="t tb s" x="152" y="717">STRATEGIC<tspan x="152" dy="5">SAFETY MGMT</tspan><tspan x="152" dy="5">(isapp093)</tspan></text></g>
<g id="isms"><rect class="b" x="127" y="736" width="50" height="21"/><text class="t tb" x="152" y="745.3">ISMS<tspan x="152" dy="6">(isapp171)</tspan></text></g>
<g id="sonars"><rect class="b" x="127" y="759" width="50" height="19"/><text class="t tb" x="152" y="767.3">Sonars<tspan x="152" dy="6">(isapp206)</tspan></text></g>
<g id="safety-critical"><rect class="b" x="127" y="781" width="50" height="19"/><text class="t tb xs" x="152" y="786.5">SAFETY CRITICAL RULE<tspan x="152" dy="4.2">COMPLIANCE</tspan><tspan x="152" dy="4.2">(isapp___)</tspan></text></g>
</g>
<g id="train-operating">
<g id="rolling-stock"><rect class="u" x="183" y="617" width="50" height="22"/><text class="t tu" x="208" y="623.8">rolling stock<tspan x="208" dy="6">library</tspan><tspan x="208" dy="6">(isapp082)</tspan></text></g>
<g id="control-flipchart"><rect class="u" x="183" y="641" width="50" height="19"/><text class="t tu" x="208" y="649.3">Control Flipchart<tspan x="208" dy="6">(isapp309)</tspan></text></g>
<g id="crews-on-train"><rect class="u" x="183" y="661" width="50" height="16"/><text class="t tu" x="208" y="667.8">Crews-on-train<tspan x="208" dy="6">(isapp310)</tspan></text></g>
<g id="pda-phonebook"><rect class="u" x="183" y="678" width="50" height="16"/><text class="t tu" x="208" y="684.8">PDA Phonebook<tspan x="208" dy="6">(isapp311)</tspan></text></g>
<g id="events-diary"><rect class="u" x="183" y="695" width="50" height="17"/><text class="t tu" x="208" y="702.3">Events Diary<tspan x="208" dy="6">(isapp312)</tspan></text></g>
<g id="train-running"><rect class="u" x="183" y="712" width="50" height="23"/><text class="t tu" x="208" y="719.3">Train Running<tspan x="208" dy="6">Board</tspan><tspan x="208" dy="6">(isapp313)</tspan></text></g>
<g id="latin"><rect class="u" x="183" y="737" width="50" height="19"/><text class="t tu" x="208" y="745.3">LATIN<tspan x="208" dy="6">(isapp138)</tspan></text></g>
<g id="olive"><rect class="u" x="183" y="758" width="50" height="20"/><text class="t tu" x="208" y="766.8">OLIVE<tspan x="208" dy="6">(isapp059)</tspan></text></g>
<g id="perry"><rect class="u" x="183" y="780" width="50" height="20"/><text class="t tu" x="208" y="788.8">perry<tspan x="208" dy="6">(isapp273)</tspan></text></g>
</g>
<g id="project-management">
<g id="mind-manager"><rect class="b" x="238" y="658" width="51" height="29"/><text class="t tb" x="263.5" y="668.3">MIND<tspan x="263.5" dy="6">MANAGER</tspan><tspan x="263.5" dy="6">(isapp184)</tspan></text></g>
<g id="projects"><rect class="b" x="238" y="688" width="51" height="19"/><text class="t tb" x="263.5" y="696.3">PROJECTS<tspan x="263.5" dy="6">(isapp159)</tspan></text></g>
<g id="projects2"><rect class="b" x="238" y="708" width="51" height="20"/><text class="t tb" x="263.5" y="716.8">PROJECTS2<tspan x="263.5" dy="6">(isapp162)</tspan></text></g>
<g id="nononer"><rect class="b" x="238" y="729" width="51" height="21"/><text class="t tb" x="263.5" y="738.3">NONONER<tspan x="263.5" dy="6">(isapp161)</tspan></text></g>
<g id="project-central"><rect class="b" x="238" y="752" width="51" height="23"/><text class="t tb" x="263.5" y="759.3">PROJECT<tspan x="263.5" dy="6">CENTRAL</tspan><tspan x="263.5" dy="6">(isapp069)</tspan></text></g>
<g id="4projects"><rect class="b" x="238" y="777" width="51" height="23"/><text class="t tb" x="263.5" y="784.3">4PROJECTS<tspan x="263.5" dy="6">ARCHIVE</tspan><tspan x="263.5" dy="6">(isapp274)</tspan></text></g>
</g>
<g id="training">
<g id="food-safety"><rect class="b" x="297" y="657" width="56" height="22"/><text class="t tb s" x="325" y="664.5">Food Safety &amp; Health<tspan x="325" dy="5">&amp; safety Training</tspan><tspan x="325" dy="5">(isapp270)</tspan></text></g>
<g id="gneru"><rect class="b" x="297" y="679" width="56" height="19"/><text class="t tb" x="325" y="687.3">GNERu<tspan x="325" dy="6">(isapp278)</tspan></text></g>
<g id="ivy"><rect class="b" x="297" y="700" width="56" height="19"/><text class="t tb" x="325" y="708.3">IVY<tspan x="325" dy="6">(isapp049)</tspan></text></g>
<g id="netu"><rect class="b" x="297" y="719" width="56" height="19"/><text class="t tb" x="325" y="727.3">NETU<tspan x="325" dy="6">(isapp057)</tspan></text></g>
<g id="driver-training"><rect class="b" x="297" y="740" width="56" height="24"/><text class="t tb s" x="325" y="748.5">DRIVER TRAINING<tspan x="325" dy="5">NEEDS ANALYSIS</tspan><tspan x="325" dy="5">(isapp166)</tspan></text></g>
<g id="shunter-training"><rect class="b" x="297" y="767" width="56" height="33"/><text class="t tb s" x="325" y="780">SHUNTER TRAINING<tspan x="325" dy="5">NEEDS ANALYSIS</tspan><tspan x="325" dy="5">(isapp167)</tspan></text></g>
</g>
<g id="contact-mgmt">
<g id="hayes"><rect class="b" x="358" y="699" width="50" height="24"/><text class="t tb" x="383" y="706.8">HAYES DX<tspan x="383" dy="6">Directory</tspan><tspan x="383" dy="6">(isapp322)</tspan></text></g>
<g id="goldmine"><rect class="b" x="358" y="727" width="50" height="22"/><text class="t tb" x="383" y="736.8">GOLDMINE<tspan x="383" dy="6">(isapp040)</tspan></text></g>
<g id="quick-address"><rect class="b" x="358" y="753" width="50" height="23"/><text class="t tb" x="383" y="760.3">QUICK<tspan x="383" dy="6">ADDRESS</tspan><tspan x="383" dy="6">(isapp273)</tspan></text></g>
<g id="contman"><rect class="b" x="358" y="779" width="50" height="21"/><text class="t tb" x="383" y="788.3">CONTMAN<tspan x="383" dy="6">(isapp289)</tspan></text></g>
</g>
<g id="procurement">
<g id="proc-master"><rect class="b" x="414" y="732" width="51" height="23"/><text class="t tb" x="439.5" y="739.3">PROCUREMENT<tspan x="439.5" dy="6">MASTER</tspan><tspan x="439.5" dy="6">(isapp157)</tspan></text></g>
<g id="preferred-supplier"><rect class="b" x="414" y="757" width="51" height="21"/><text class="t tb" x="439.5" y="763.3">PREFERRED<tspan x="439.5" dy="6">SUPPLIER</tspan><tspan x="439.5" dy="6">(isapp126)</tspan></text></g>
<g id="true-zero"><rect class="b" x="414" y="779" width="51" height="21"/><text class="t tb" x="439.5" y="788.3">TRUE ZERO<tspan x="439.5" dy="6">(isapp160)</tspan></text></g>
</g>
<g id="recruitment">
<g id="employee-commitment"><rect class="b" x="468" y="743" width="51" height="30"/><text class="t tb" x="493.5" y="750.8">employee<tspan x="493.5" dy="6">commitment</tspan><tspan x="493.5" dy="6">index</tspan><tspan x="493.5" dy="6">(isapp237)</tspan></text></g>
<g id="greenlight"><rect class="b" x="468" y="777" width="51" height="23"/><text class="t tb" x="493.5" y="787.3">GREENLIGHT<tspan x="493.5" dy="6">(isapp041)</tspan></text></g>
</g>
<g id="finance">
<g id="at-risk"><rect class="b" x="523" y="753" width="48" height="23"/><text class="t tb" x="547" y="763.3">@RISK<tspan x="547" dy="6">(isapp001)</tspan></text></g>
<g id="accounting-stds"><rect class="b" x="523" y="778" width="48" height="22"/><text class="t tb" x="547" y="787.8">accounting stds<tspan x="547" dy="6">(isapp228)</tspan></text></g>
</g>
<g id="catering">
<g id="thermatag"><rect class="y" x="574" y="753" width="46" height="19"/><text class="t ty" x="597" y="761.3">THERMATAG<tspan x="597" dy="6">(isapp196)</tspan></text></g>
<g id="cemit"><rect class="y" x="574" y="778" width="46" height="20"/><text class="t ty" x="597" y="786.8">CEMIT<tspan x="597" dy="6">(isapp050)</tspan></text></g>
</g>
<g id="contract-mgmt">
<g id="contracts"><rect class="b" x="626" y="754" width="51" height="20"/><text class="t tb" x="651.5" y="762.8">CONTRACTS<tspan x="651.5" dy="6">(isapp150)</tspan></text></g>
<g id="contract-variations"><rect class="b" x="626" y="778" width="51" height="22"/><text class="t tb s" x="651.5" y="785.5">CONTRACT<tspan x="651.5" dy="5">VARIATIONS</tspan><tspan x="651.5" dy="5">(isapp158)</tspan></text></g>
</g>
<g id="retail">
<g id="iris-pirates"><rect class="y" x="681" y="735" width="56" height="18"/><text class="t ty" x="709" y="742.8">IRIS (PIRATES)<tspan x="709" dy="6">(isapp139)</tspan></text></g>
<g id="pac-spreadsheet"><rect class="y" x="681" y="755" width="56" height="23"/><text class="t ty" x="709" y="762.3">PAC<tspan x="709" dy="6">SPREADSHEET</tspan><tspan x="709" dy="6">(isapp281)</tspan></text></g>
<g id="ttws"><rect class="y" x="681" y="781" width="56" height="19"/><text class="t ty" x="709" y="789.3">TTWS<tspan x="709" dy="6">(isapp100)</tspan></text></g>
</g>
<g id="asset-mgmt">
<g id="service-life"><rect class="p" x="743" y="733" width="48" height="20"/><text class="t tp" x="767" y="741.8">SERVICE LIFE<tspan x="767" dy="6">(isapp198)</tspan></text></g>
<g id="idt-stores"><rect class="p" x="743" y="756" width="48" height="21"/><text class="t tp" x="767" y="765.3">IDT STORES<tspan x="767" dy="6">(isapp045)</tspan></text></g>
<g id="ichex"><rect class="p" x="743" y="780" width="48" height="20"/><text class="t tp" x="767" y="788.8">ICHEX<tspan x="767" dy="6">(isapp044)</tspan></text></g>
</g>
<g id="property-mgmt">
<g id="cotag"><rect class="b" x="796" y="733" width="50" height="24"/><text class="t tb" x="821" y="740.8">COTAG<tspan x="821" dy="6">GRANTA</tspan><tspan x="821" dy="6">(isapp134)</tspan></text></g>
<g id="tramps"><rect class="b" x="796" y="758" width="50" height="19"/><text class="t tb" x="821" y="766.3">TRAMPS<tspan x="821" dy="6">(isapp102)</tspan></text></g>
<g id="shire"><rect class="b" x="796" y="780" width="50" height="20"/><text class="t tb" x="821" y="788.8">SHIRE<tspan x="821" dy="6">(isapp085)</tspan></text></g>
</g>
<g id="customer-info">
<g id="nres"><rect class="y" x="852" y="727" width="51" height="19"/><text class="t ty" x="877.5" y="735.3">NRES<tspan x="877.5" dy="6">(isapp142)</tspan></text></g>
<g id="p2date"><rect class="y" x="852" y="749" width="51" height="17"/><text class="t ty" x="877.5" y="756.3">p2date<tspan x="877.5" dy="6">(isapp247)</tspan></text></g>
<g id="p2-web-app"><rect class="y" x="852" y="773" width="55" height="27"/><text class="t ty" x="879.5" y="782.3">p2 WEB<tspan x="879.5" dy="6">APPLICATION</tspan><tspan x="879.5" dy="6">(isapp288)</tspan></text></g>
</g>
<g id="systems-mgmt">
<g id="hardcat"><rect class="b" x="908" y="759" width="50" height="19"/><text class="t tb" x="933" y="767.3">HARDCAT<tspan x="933" dy="6">(isapp042)</tspan></text></g>
<g id="leaveapt"><rect class="b" x="908" y="781" width="50" height="19"/><text class="t tb" x="933" y="789.3">LEAVEAPT<tspan x="933" dy="6">(isapp314)</tspan></text></g>
</g>
<g id="customer-services">
<g id="step"><rect class="y" x="965" y="614" width="55" height="21"/><text class="t ty" x="992.5" y="623.3">STEP<tspan x="992.5" dy="6">(isapp092)</tspan></text></g>
<g id="telemagic"><rect class="y" x="965" y="637" width="55" height="19"/><text class="t ty" x="992.5" y="645.3">TELEMAGIC<tspan x="992.5" dy="6">(isapp085)</tspan></text></g>
<g id="car-park-res"><rect class="y" x="965" y="658" width="55" height="22"/><text class="t ty s" x="992.5" y="665.5">CAR PARK<tspan x="992.5" dy="5">RESERVATION</tspan><tspan x="992.5" dy="5">(ISAPP294)</tspan></text></g>
<g id="pay-on-foot"><rect class="y" x="965" y="682" width="55" height="22"/><text class="t ty s" x="992.5" y="689.5">PAY ON FOOT (CAR<tspan x="992.5" dy="5">PARK SYSTEM)</tspan><tspan x="992.5" dy="5">(isapp108)</tspan></text></g>
<g id="pay-display"><rect class="y" x="965" y="706" width="55" height="26"/><text class="t ty s" x="992.5" y="713">PAY &amp; DISPLAY<tspan x="992.5" dy="5">(CAR PARK</tspan><tspan x="992.5" dy="5">SYSTEM)</tspan><tspan x="992.5" dy="5">(isapp293)</tspan></text></g>
<g id="snap2000"><rect class="y" x="965" y="733" width="55" height="20"/><text class="t ty" x="992.5" y="741.8">SNAP2000<tspan x="992.5" dy="6">(isapp284)</tspan></text></g>
<g id="nrs-reports"><rect class="y" x="965" y="758" width="55" height="20"/><text class="t ty" x="992.5" y="766.8">NRS Reports Mgr<tspan x="992.5" dy="6">(isapp267)</tspan></text></g>
<g id="nrs-update"><rect class="y" x="965" y="780" width="55" height="20"/><text class="t ty" x="992.5" y="788.8">NRS Update Mgr<tspan x="992.5" dy="6">(isapp268)</tspan></text></g>
</g>
<g id="ticket-refunds">
<g id="dup-ticket"><rect class="b" x="1028" y="574" width="51" height="26"/><text class="t tb s" x="1053.5" y="583.5">DUPLICATE TICKET<tspan x="1053.5" dy="5">TRACKER</tspan><tspan x="1053.5" dy="5">(isapp130)</tspan></text></g>
<g id="refunds"><rect class="b" x="1028" y="603" width="51" height="20"/><text class="t tb" x="1053.5" y="611.8">REFUNDS<tspan x="1053.5" dy="6">(isapp076)</tspan></text></g>
<g id="cheque"><rect class="b" x="1028" y="624" width="51" height="24"/><text class="t tb" x="1053.5" y="631.8">Cheque Request<tspan x="1053.5" dy="6">Tracker</tspan><tspan x="1053.5" dy="6">(isapp296)</tspan></text></g>
<g id="refunds2000"><rect class="b" x="1028" y="650" width="51" height="18"/><text class="t tb" x="1053.5" y="657.8">REFUNDS2000<tspan x="1053.5" dy="6">(isapp195)</tspan></text></g>
<g id="ticket-irreg"><rect class="b" x="1028" y="670" width="51" height="26"/><text class="t tb" x="1053.5" y="678.8">TICKET<tspan x="1053.5" dy="6">IRREGULARITIES</tspan><tspan x="1053.5" dy="6">(isapp124)</tspan></text></g>
<g id="reftrak"><rect class="b" x="1028" y="698" width="51" height="19"/><text class="t tb" x="1053.5" y="706.3">REFTRAK<tspan x="1053.5" dy="6">(isapp131)</tspan></text></g>
<g id="losses"><rect class="b" x="1025" y="718" width="53" height="19"/><text class="t tb" x="1051.5" y="726.3">LOSSES<tspan x="1051.5" dy="6">(isapp295)</tspan></text></g>
<g id="reftraka"><rect class="b" x="1028" y="738" width="51" height="20"/><text class="t tb" x="1053.5" y="746.8">REFTRAKA<tspan x="1053.5" dy="6">(isapp300)</tspan></text></g>
<g id="reftrakb"><rect class="b" x="1028" y="759" width="51" height="19"/><text class="t tb" x="1053.5" y="767.3">REFTRAKB<tspan x="1053.5" dy="6">(isapp298)</tspan></text></g>
<g id="rwdreftrak"><rect class="b" x="1028" y="781" width="51" height="19"/><text class="t tb" x="1053.5" y="789.3">RWDREFTRAK<tspan x="1053.5" dy="6">(isapp297)</tspan></text></g>
</g>
<g id="document-mgmt">
<g id="ptoner"><rect class="n" x="1086" y="464" width="62" height="21"/><text class="t tn" x="1117" y="473.3">ptoner<tspan x="1117" dy="6">(isapp256)</tspan></text></g>
<g id="inland-revenue"><rect class="b" x="1086" y="486" width="62" height="24"/><text class="t tb" x="1117" y="493.8">Inland Revenue<tspan x="1117" dy="6">Employers CD ROM</tspan><tspan x="1117" dy="6">(isapp306)</tspan></text></g>
<g id="barbour"><rect class="b" x="1086" y="512" width="62" height="21"/><text class="t tb" x="1117" y="518.3">Barbour Health &amp;<tspan x="1117" dy="6">Safety</tspan><tspan x="1117" dy="6">(isapp219)</tspan></text></g>
<g id="tbt-tracker"><rect class="b" x="1086" y="535" width="62" height="21"/><text class="t tb" x="1117" y="544.3">tbt TRACKER<tspan x="1117" dy="6">(isapp286)</tspan></text></g>
<g id="staff-publication"><rect class="b" x="1086" y="559" width="62" height="28"/><text class="t tb s" x="1117" y="569.5">STAFF PUBLICATION<tspan x="1117" dy="5">REQUIREMENTS</tspan><tspan x="1117" dy="5">(isapp125)</tspan></text></g>
<g id="edms"><rect class="b" x="1086" y="589" width="62" height="18"/><text class="t tb" x="1117" y="596.8">EDMS<tspan x="1117" dy="6">(isapp025)</tspan></text></g>
<g id="bg-eng-library"><rect class="b" x="1086" y="609" width="62" height="25"/><text class="t tb" x="1117" y="617.3">BG ENGINEERING<tspan x="1117" dy="6">LIBRARY</tspan><tspan x="1117" dy="6">(isapp009)</tspan></text></g>
<g id="business-library"><rect class="b" x="1086" y="638" width="62" height="19"/><text class="t tb s" x="1117" y="646.5">BUSINESS LIBRARY<tspan x="1117" dy="5">(isapp010)</tspan></text></g>
<g id="doc-register"><rect class="b" x="1086" y="660" width="62" height="25"/><text class="t tb" x="1117" y="668.3">DOCUMENT<tspan x="1117" dy="6">REGISTER (DOCS)</tspan><tspan x="1117" dy="6">(isapp024)</tspan></text></g>
<g id="eng-library"><rect class="b" x="1086" y="688" width="62" height="25"/><text class="t tb" x="1117" y="696.3">ENGINEERING<tspan x="1117" dy="6">LIBRARY</tspan><tspan x="1117" dy="6">(isapp027)</tspan></text></g>
<g id="franchise-library"><rect class="b" x="1086" y="716" width="62" height="19"/><text class="t tb s" x="1117" y="724.5">FRANCHISE LIBRARY<tspan x="1117" dy="5">(isapp035)</tspan></text></g>
<g id="drawings-register"><rect class="b" x="1086" y="738" width="62" height="19"/><text class="t tb s" x="1117" y="746.5">DRAWINGS REGISTER<tspan x="1117" dy="5">(isapp148)</tspan></text></g>
<g id="doc-register-pics"><rect class="b" x="1086" y="761" width="62" height="18"/><text class="t tb s" x="1117" y="769">DOCUMENT REGISTER<tspan x="1117" dy="5">(PICS)(isapp187)</tspan></text></g>
<g id="safety-doc-library"><rect class="b" x="1086" y="782" width="62" height="19"/><text class="t tb s" x="1117" y="790.5">SAFETY DOC LIBRARY<tspan x="1117" dy="5">(isapp083)</tspan></text></g>
</g>
<g id="franchise-work">
<g id="rsp-agreements"><rect class="n" x="584" y="552" width="54" height="22"/><text class="t tn" x="611" y="558.8">RSP<tspan x="611" dy="6">AGREEMENTS</tspan><tspan x="611" dy="6">(isapp146)</tspan></text></g>
<g id="ascc"><rect class="n" x="669" y="535" width="52" height="19"/><text class="t tn" x="695" y="543.3">ASCC<tspan x="695" dy="6">(isapp275)</tspan></text></g>
<g id="ana-client"><rect class="n" x="727" y="535" width="41" height="19"/><text class="t tn" x="747.5" y="543.3">ana_client<tspan x="747.5" dy="6">(isapp216)</tspan></text></g>
<g id="clmedia"><rect class="n" x="649" y="557" width="51" height="21"/><text class="t tn" x="674.5" y="566.3">CLMedia<tspan x="674.5" dy="6">(isapp276)</tspan></text></g>
<g id="avantis"><rect class="n" x="703" y="557" width="49" height="21"/><text class="t tn" x="727.5" y="566.3">avantis<tspan x="727.5" dy="6">(isapp222)</tspan></text></g>
<g id="sunstrak3"><rect class="n" x="755" y="557" width="50" height="21"/><text class="t tn" x="780" y="566.3">sunstrak3<tspan x="780" dy="6">(isapp257)</tspan></text></g>
<g id="icp"><rect class="n" x="629" y="581" width="50" height="21"/><text class="t tn" x="654" y="590.3">icp<tspan x="654" dy="6">(isapp245)</tspan></text></g>
<g id="multisim"><rect class="n" x="683" y="581" width="50" height="21"/><text class="t tn" x="708" y="590.3">multisim<tspan x="708" dy="6">(isapp227)</tspan></text></g>
<g id="ecdl"><rect class="n" x="737" y="581" width="50" height="21"/><text class="t tn" x="762" y="590.3">ecdl<tspan x="762" dy="6">(isapp259)</tspan></text></g>
<g id="asm"><rect class="n" x="666" y="604" width="49" height="20"/><text class="t tn" x="690.5" y="612.8">asm<tspan x="690.5" dy="6">(isapp238)</tspan></text></g>
<g id="orion"><rect class="n" x="719" y="604" width="49" height="20"/><text class="t tn" x="743.5" y="612.8">orion tiny logger<tspan x="743.5" dy="6">(isapp225)</tspan></text></g>
<g id="rdbn"><rect class="n" x="685" y="628" width="50" height="20"/><text class="t tn" x="710" y="636.8">rdbn<tspan x="710" dy="6">(isapp251)</tspan></text></g>
</g>
<g id="gbtt"><rect class="u" x="508" y="649" width="51" height="21"/><text class="t tu" x="533.5" y="658.3">GBTT<tspan x="533.5" dy="6">(isapp138)</tspan></text></g>
<g id="corporate-gifts"><rect class="o" x="511" y="683" width="52" height="20"/><text class="t to" x="537" y="691.8">Corporate Gifts<tspan x="537" dy="6">(isapp280)</tspan></text></g>
<g id="time-forecasting"><rect class="o" x="566" y="681" width="54" height="27"/><text class="t to s" x="593" y="688.5">TIME AND<tspan x="593" dy="5">FORECASTING</tspan><tspan x="593" dy="5">FRAMEWORK</tspan><tspan x="593" dy="5">(isapp183)</tspan></text></g>
<g id="20keys"><rect class="b" x="629" y="682" width="55" height="27"/><text class="t tb" x="656.5" y="694.3">20KEYS<tspan x="656.5" dy="6">(isapp282)</tspan></text></g>
</svg>
